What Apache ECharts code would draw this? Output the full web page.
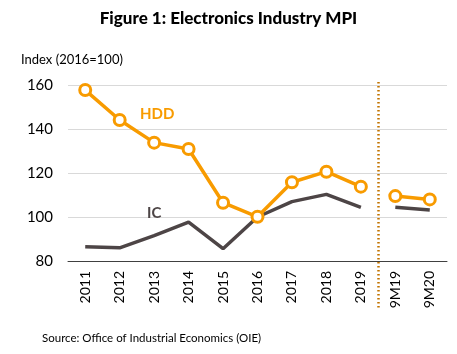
<!DOCTYPE html>
<html>
<head>
<meta charset="utf-8">
<script src="https://cdn.jsdelivr.net/npm/echarts@6/dist/echarts.min.js"></script>
<style>
  html, body { margin: 0; padding: 0; background: #fff; }
  #drew { width: 457px; height: 354px; }
</style>
</head>
<body>
<div id="drew"></div>
<script>
var categories = ['2011', '2012', '2013', '2014', '2015', '2016', '2017', '2018', '2019', '9M19', '9M20'];
var hddValues = [157.7, 144.1, 133.8, 130.9, 106.5, 100.1, 115.8, 120.6, 113.8, 109.5, 108.0];
var icValues = [86.5, 86.0, 91.5, 97.7, 85.6, 100.0, 107.0, 110.3, 104.4, 104.4, 103.2];
var yTicks = [80, 100, 120, 140, 160];
var splitAt = 9; // first index of the 9M part

var orange = '#F89B00';
var grey = '#4D4546';
var font = 'Lato';

function part(values, from, to) {
    return values.map(function (v, i) { return (i >= from && i < to) ? v : '-'; });
}

var hddStyle = {
    type: 'line',
    symbol: 'circle',
    symbolSize: 11,
    itemStyle: { color: '#fff', borderColor: orange, borderWidth: 3 },
    lineStyle: { color: orange, width: 3.5 },
    z: 3
};
var icStyle = {
    type: 'line',
    symbol: 'none',
    lineStyle: { color: grey, width: 3.5 },
    z: 2
};

var myChart = echarts.init(document.getElementById('drew'));
var option = {
    backgroundColor: '#fff',
    animation: false,
    textStyle: { fontFamily: font },
    title: {
        text: 'Figure 1: Electronics Industry MPI',
        left: 'center',
        top: 5,
        textStyle: { fontFamily: font, fontWeight: 900, fontSize: 17, color: '#000' }
    },
    grid: { left: 68, right: 10, top: 85, bottom: 93 },
    xAxis: {
        type: 'category',
        data: categories,
        axisLine: { lineStyle: { color: '#404040', width: 1 } },
        axisTick: { show: false },
        axisLabel: { rotate: 90, fontSize: 14, color: '#000', margin: 10, fontFamily: font }
    },
    yAxis: {
        type: 'value',
        min: yTicks[0],
        max: yTicks[yTicks.length - 1],
        interval: 20,
        axisLine: { show: false },
        axisTick: { show: false },
        splitLine: { lineStyle: { color: '#D9D9D9', width: 1 } },
        axisLabel: { fontSize: 15, color: '#000', margin: 15, fontFamily: font }
    },
    series: [
        Object.assign({ name: 'IC', data: part(icValues, 0, splitAt) }, icStyle),
        Object.assign({ name: 'IC 9M', data: part(icValues, splitAt, categories.length) }, icStyle),
        Object.assign({ name: 'HDD', data: part(hddValues, 0, splitAt) }, hddStyle),
        Object.assign({ name: 'HDD 9M', data: part(hddValues, splitAt, categories.length) }, hddStyle)
    ]
};
myChart.setOption(option);

// divider between annual and 9M data, plus text labels
var xa = myChart.convertToPixel({ xAxisIndex: 0 }, categories[splitAt - 1]);
var xb = myChart.convertToPixel({ xAxisIndex: 0 }, categories[splitAt]);
var xd = Math.round((xa + xb) / 2) + 0.5;
myChart.setOption({
    graphic: [
        {
            type: 'line',
            shape: { x1: xd, y1: 82, x2: xd, y2: 308 },
            style: { stroke: '#C27400', lineWidth: 2.5, lineDash: [1.5, 2.5] },
            z: 10
        },
        {
            type: 'text', left: 21, top: 53,
            style: { text: 'Index (2016=100)', font: '13px ' + font, fill: '#000' }
        },
        {
            type: 'text', left: 140, top: 107,
            style: { text: 'HDD', font: 'bold 15px ' + font, fill: orange }
        },
        {
            type: 'text', left: 147, top: 206,
            style: { text: 'IC', font: 'bold 15px ' + font, fill: grey }
        },
        {
            type: 'text', left: 42, top: 332,
            style: { text: 'Source: Office of Industrial Economics (OIE)', font: '11.5px ' + font, fill: '#000' }
        }
    ]
});

window.addEventListener('resize', function () { myChart.resize(); });
</script>
</body>
</html>
